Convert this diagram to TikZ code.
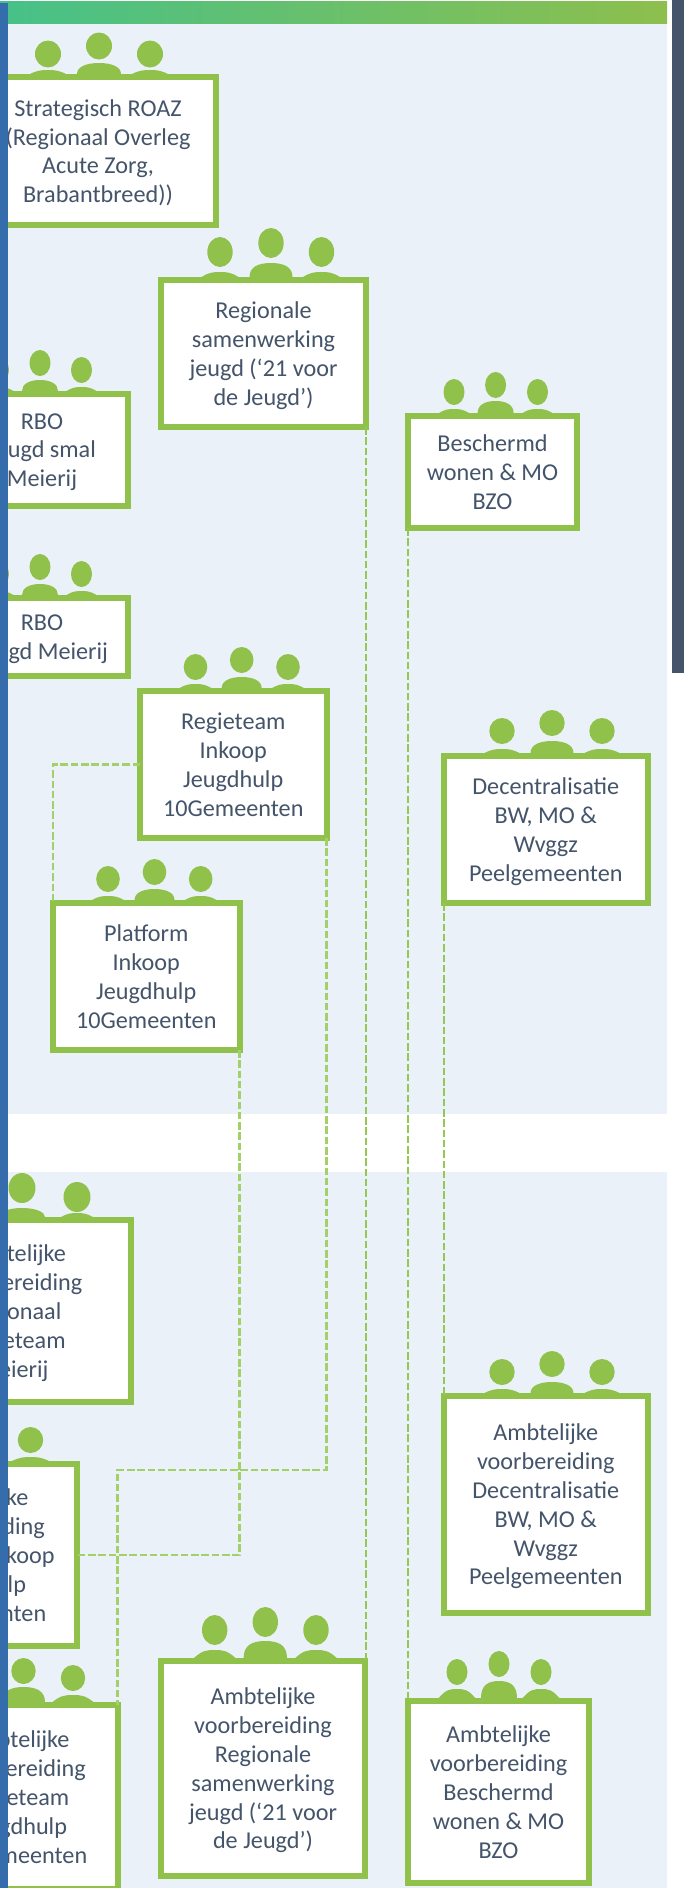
\documentclass[tikz,border=0pt]{standalone}
\usepackage{fontspec}
\setmainfont{Carlito}
\definecolor{grn}{HTML}{90C24B}
\definecolor{lnk}{HTML}{93C953}
\definecolor{lnklight}{HTML}{A3D069}
\definecolor{panel}{HTML}{EAF1F9}
\definecolor{txt}{HTML}{44546A}
\definecolor{leftbar}{HTML}{356DAC}
\tikzset{
  box/.style={draw=grn,fill=white,line width=6pt,inner sep=0pt,outer sep=0pt,align=center,text=txt,
    font=\fontsize{24.2}{28.8}\selectfont,text depth=-1pt},
  link/.style={draw=lnk,line width=2.2pt,dash pattern=on 7.5pt off 2.8pt},
  linklight/.style={link,draw=lnklight},
}
\begin{document}
\begin{tikzpicture}[x=1pt,y=-1pt]
\useasboundingbox (0,0) rectangle (684,1888);
\clip (0,0) rectangle (684,1888);
\fill[white] (0,0) rectangle (684,1888);
% panels and bars
\fill[panel] (0,23) rectangle (667,1114);
\fill[panel] (0,1172) rectangle (667,1888);
\shade[left color={rgb,255:red,70;green,193;blue,137},middle color={rgb,255:red,100;green,196;blue,110},right color={rgb,255:red,141;green,191;blue,77}] (0,1) rectangle (667,23);
\fill[txt] (672,0) rectangle (684,673);
% people: left x, mid x, right x, mid y, side y, rx, ry, base, mid half width, mid top, side half width, side top
\foreach \xl/\xm/\xr/\ym/\ys/\rx/\ry/\ba/\hw/\tm/\sw/\ts in {
  48/99/150/46/54/13/13.5/74/22/63/18/70,
  220/271/321.5/243/252/12.7/15/277/21.5/263/18.5/272,
  -1.5/40/81.5/363/370/10.5/13/391/18/380/15/387,
  -1.5/40/81.5/567/574/10.5/13/595/18/584/15/591,
  195.5/241.7/288/660/667/11.8/13/688/20/677/16/684,
  108/154.5/200.7/872/879/11.8/13/900/20/889/16/896,
  454/495.6/537.5/385/392/10.5/13/413/18/401/15/409,
  502/552/602/723/731/12.7/13/753/21.5/741/17.5/749,
  -33/22/77/1188/1197/13.5/15/1217/23/1208/16/1213,
  -20/-20/30.5/1432/1440/12.7/13/1461/20/1451/18.5/1457,
  -26/23.5/73/1671/1678/12.2/13/1702/21.5/1687/20.5/1695,
  214.7/265.3/316/1622/1630/12.7/15/1658/21.7/1641/20.8/1650,
  457/499/541/1664/1672/10.5/13/1698/18/1681/18.3/1689,
  502/552/602/1364/1372/12.7/13/1393/21.5/1382/17.5/1389}{
  \fill[grn] (\xm,\ym) ellipse [x radius=\rx,y radius=\ry];
  \fill[grn] (\xl,\ys) ellipse [x radius=\rx,y radius=\ry];
  \fill[grn] (\xr,\ys) ellipse [x radius=\rx,y radius=\ry];
  \fill[grn] (\xm-\hw,\ba) .. controls (\xm-\hw,\tm+4) and (\xm-0.6*\hw,\tm) .. (\xm,\tm)
     .. controls (\xm+0.6*\hw,\tm) and (\xm+\hw,\tm+4) .. (\xm+\hw,\ba) -- cycle;
  \fill[grn] (\xl-\sw,\ba) .. controls (\xl-0.6*\sw,\ts+0.5) and (\xl-0.4*\sw,\ts) .. (\xl,\ts)
     .. controls (\xl+0.4*\sw,\ts) and (\xl+0.6*\sw,\ts+0.5) .. (\xl+\sw,\ba) -- cycle;
  \fill[grn] (\xr-\sw,\ba) .. controls (\xr-0.6*\sw,\ts+0.5) and (\xr-0.4*\sw,\ts) .. (\xr,\ts)
     .. controls (\xr+0.4*\sw,\ts) and (\xr+0.6*\sw,\ts+0.5) .. (\xr+\sw,\ba) -- cycle;
}
% boxes: centre, then centre-line width and height
\node[box,minimum width=236pt,minimum height=148pt] (roaz) at (98,151) {Strategisch ROAZ\\(Regionaal Overleg\\Acute Zorg,\\Brabantbreed))};
\node[box,minimum width=205pt,minimum height=147pt] (regsam) at (263.5,353.5) {Regionale\\samenwerking\\jeugd (‘21 voor\\de Jeugd’)};
\node[box,minimum width=171pt,minimum height=112pt] (rbosmal) at (42,450) {RBO\\Jeugd smal\\Meierij};
\node[box,minimum width=171pt,minimum height=78pt] (rbo) at (42,637) {RBO\\Jeugd Meierij};
\node[box,minimum width=186.5pt,minimum height=147pt] (regie) at (233.25,764.5) {Regieteam\\Inkoop\\Jeugdhulp\\10Gemeenten};
\node[box,minimum width=186.5pt,minimum height=147pt] (plat) at (146.25,976.5) {Platform\\Inkoop\\Jeugdhulp\\10Gemeenten};
\node[box,minimum width=169pt,minimum height=112pt] (besch) at (492.5,472) {Beschermd\\wonen \& MO\\BZO};
\node[box,minimum width=203.5pt,minimum height=147pt] (dec) at (545.75,829.5) {Decentralisatie\\BW, MO \&\\Wvggz\\Peelgemeenten};
\node[box,minimum width=236pt,minimum height=182pt] (avregio) at (13.4,1311) {Ambtelijke\\voorbereiding\\Regionaal\\Regieteam\\Meierij};
\node[box,minimum width=202pt,minimum height=182pt] (avplat) at (-24,1555) {Ambtelijke\\voorbereiding\\Platform Inkoop\\Jeugdhulp\\10Gemeenten};
\node[box,minimum width=201pt,minimum height=184pt] (avregie) at (17,1797) {Ambtelijke\\voorbereiding\\Regieteam\\Jeugdhulp\\10Gemeenten};
\node[box,minimum width=204pt,minimum height=215pt] (avsam) at (263,1768.5) {Ambtelijke\\voorbereiding\\Regionale\\samenwerking\\jeugd (‘21 voor\\de Jeugd’)};
\node[box,minimum width=181pt,minimum height=182pt] (avbesch) at (498.5,1792) {Ambtelijke\\voorbereiding\\Beschermd\\wonen \& MO\\BZO};
\node[box,minimum width=203.5pt,minimum height=217pt] (avdec) at (545.75,1504.5) {Ambtelijke\\voorbereiding\\Decentralisatie\\BW, MO \&\\Wvggz\\Peelgemeenten};
% connectors
\coordinate (turn) at (avregie.north east |- 0,1470);
\draw[link] (regsam.south east) -- (regsam.south east |- avsam.north);
\draw[link] (besch.south west) -- (besch.south west |- avbesch.north);
\draw[link] (dec.south west) -- (avdec.north west);
\draw[linklight] (regie.west) -| (plat.north west);
\draw[linklight] (regie.south east) |- (turn) -- (avregie.north east);
\draw[linklight] (plat.south east) |- (avplat.east);
% left bar on top
\fill[leftbar] (0,3) rectangle (7.5,1888);
\end{tikzpicture}
\end{document}
